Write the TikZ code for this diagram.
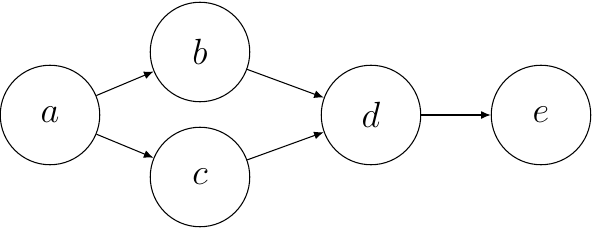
\documentclass[tikz,border=0pt]{standalone}
\usepackage{tikz}
\usetikzlibrary{arrows.meta,positioning}

\begin{document}
\begin{tikzpicture}[
      vert/.style={circle, draw, line width=0.6pt, minimum size=1.99cm,
                   inner sep=0pt, font=\huge},
      arr/.style={-{Latex[length=5.5pt,width=4.5pt]}, line width=0.6pt},
    ]
    \useasboundingbox (0,0) rectangle (11.86,-4.56);

    % Vertices
    \node[vert] (a) at (1, -2.3)     {$a$};
    \node[vert] (b) at (4, -1.04)    {$b$};
    \node[vert] (c) at (4, -3.54)    {$c$};
    \node[vert] (d) at (7.42, -2.3)  {$d$};
    \node[vert] (e) at (10.82, -2.3) {$e$};

    % Edges
    \draw[arr] (a) -- (b);
    \draw[arr] (a) -- (c);
    \draw[arr] (b) -- (d);
    \draw[arr] (c) -- (d);
    \draw[arr] (d) -- (e);

\end{tikzpicture}
\end{document}
